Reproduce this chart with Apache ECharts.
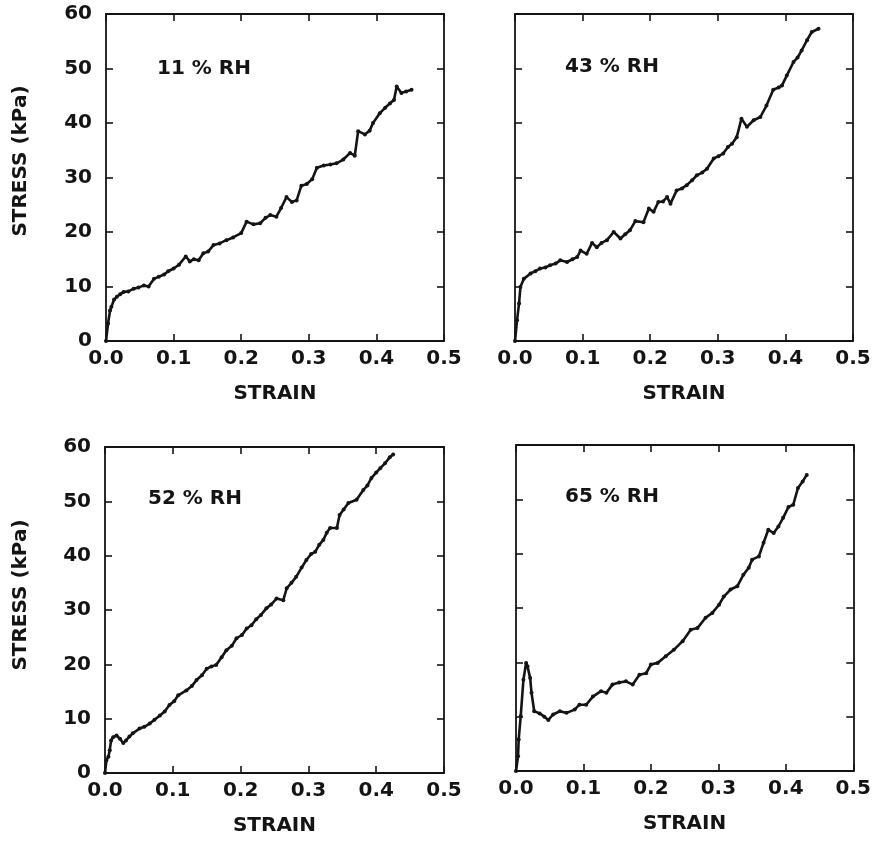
<!DOCTYPE html>
<html>
<head>
<meta charset="utf-8">
<title>Stress-strain at four RH levels</title>
<script src="https://cdn.jsdelivr.net/npm/echarts@6/dist/echarts.min.js"></script>
<style>
  html, body { margin: 0; padding: 0; background: #fff; }
  #chart { width: 874px; height: 842px; }
</style>
</head>
<body>
<div id="chart"></div>
<script>
// panel labels
var panelNames = ['11 % RH', '43 % RH', '52 % RH', '65 % RH'];
var xTicks = [0, 0.1, 0.2, 0.3, 0.4, 0.5];
var yTicks = [0, 10, 20, 30, 40, 50, 60];

// 11 % RH
var strain11 = [0, 0.003, 0.006, 0.008, 0.012, 0.016, 0.021, 0.026, 0.033, 0.041, 0.048, 0.056, 0.063, 0.071, 0.078, 0.086, 0.092, 0.1, 0.108, 0.118, 0.124, 0.13, 0.137, 0.144, 0.151, 0.159, 0.168, 0.178, 0.188, 0.2, 0.208, 0.218, 0.228, 0.236, 0.243, 0.252, 0.259, 0.267, 0.275, 0.282, 0.289, 0.297, 0.305, 0.312, 0.322, 0.332, 0.341, 0.351, 0.361, 0.368, 0.373, 0.383, 0.39, 0.395, 0.405, 0.413, 0.42, 0.426, 0.43, 0.437, 0.444, 0.452];
var stress11 = [0, 3.2, 5.6, 6.3, 7.6, 8.1, 8.6, 9.0, 9.1, 9.6, 9.8, 10.2, 10.0, 11.4, 11.8, 12.2, 12.8, 13.3, 14.0, 15.5, 14.6, 15.0, 14.8, 16.1, 16.4, 17.6, 17.9, 18.5, 19.0, 19.8, 21.9, 21.4, 21.6, 22.6, 23.1, 22.8, 24.4, 26.4, 25.5, 25.8, 28.5, 28.8, 29.7, 31.8, 32.2, 32.4, 32.6, 33.3, 34.5, 34.0, 38.5, 37.9, 38.6, 40.0, 41.8, 42.8, 43.6, 44.2, 46.7, 45.5, 45.8, 46.1];

// 43 % RH
var strain43 = [0, 0.003, 0.006, 0.008, 0.013, 0.023, 0.03, 0.037, 0.045, 0.052, 0.06, 0.067, 0.077, 0.085, 0.092, 0.097, 0.106, 0.114, 0.121, 0.128, 0.136, 0.146, 0.156, 0.163, 0.17, 0.178, 0.19, 0.198, 0.205, 0.212, 0.219, 0.225, 0.23, 0.239, 0.247, 0.254, 0.262, 0.269, 0.277, 0.284, 0.294, 0.301, 0.308, 0.315, 0.321, 0.328, 0.335, 0.343, 0.353, 0.363, 0.372, 0.382, 0.39, 0.395, 0.402, 0.412, 0.418, 0.424, 0.432, 0.439, 0.449];
var stress43 = [0, 3.8, 6.9, 9.9, 11.4, 12.4, 12.8, 13.3, 13.5, 13.9, 14.2, 14.8, 14.5, 15.0, 15.4, 16.6, 16.0, 18.0, 17.2, 18.0, 18.5, 20.0, 18.8, 19.6, 20.3, 22.0, 21.8, 24.3, 23.7, 25.5, 25.6, 26.4, 25.2, 27.6, 28.0, 28.6, 29.5, 30.4, 30.9, 31.6, 33.5, 33.9, 34.4, 35.6, 36.2, 37.4, 40.8, 39.3, 40.5, 41.1, 43.2, 46.1, 46.5, 46.9, 48.7, 51.2, 52.0, 53.3, 55.2, 56.7, 57.3];

// 52 % RH
var strain52 = [0, 0.002, 0.005, 0.007, 0.009, 0.012, 0.017, 0.022, 0.027, 0.031, 0.036, 0.041, 0.051, 0.058, 0.066, 0.073, 0.081, 0.088, 0.095, 0.102, 0.108, 0.12, 0.128, 0.135, 0.143, 0.15, 0.157, 0.164, 0.172, 0.179, 0.187, 0.194, 0.202, 0.209, 0.216, 0.223, 0.23, 0.238, 0.245, 0.253, 0.263, 0.268, 0.275, 0.282, 0.29, 0.297, 0.304, 0.31, 0.316, 0.322, 0.327, 0.332, 0.342, 0.346, 0.352, 0.359, 0.371, 0.381, 0.387, 0.393, 0.4, 0.406, 0.413, 0.42, 0.425];
var stress52 = [0, 2.3, 3.0, 4.2, 6.0, 6.6, 6.9, 6.3, 5.5, 6.0, 6.7, 7.3, 8.2, 8.5, 9.1, 9.8, 10.6, 11.3, 12.5, 13.2, 14.3, 15.2, 16.0, 17.1, 18.0, 19.2, 19.6, 19.9, 21.3, 22.6, 23.4, 24.8, 25.4, 26.6, 27.2, 28.3, 29.1, 30.3, 31.0, 32.1, 31.8, 34.0, 35.0, 36.1, 37.8, 39.2, 40.3, 40.7, 42.0, 42.9, 44.2, 45.1, 45.1, 47.5, 48.5, 49.7, 50.3, 52.1, 52.9, 54.3, 55.3, 56.1, 57.0, 58.1, 58.6];

// 65 % RH
var strain65 = [0, 0.003, 0.004, 0.007, 0.011, 0.015, 0.017, 0.021, 0.023, 0.027, 0.035, 0.042, 0.048, 0.055, 0.065, 0.075, 0.087, 0.094, 0.104, 0.114, 0.126, 0.134, 0.143, 0.153, 0.163, 0.173, 0.183, 0.193, 0.2, 0.21, 0.222, 0.234, 0.247, 0.259, 0.269, 0.281, 0.291, 0.301, 0.308, 0.318, 0.328, 0.337, 0.345, 0.35, 0.36, 0.367, 0.374, 0.382, 0.389, 0.396, 0.404, 0.411, 0.418, 0.425, 0.431];
var stress65 = [0, 2.7, 5.8, 10.1, 16.8, 19.9, 19.3, 17.1, 14.4, 11.0, 10.6, 10.0, 9.4, 10.4, 11.0, 10.7, 11.3, 12.2, 12.2, 13.7, 14.7, 14.4, 15.9, 16.3, 16.5, 15.9, 17.7, 18.0, 19.6, 19.9, 21.1, 22.3, 23.9, 26.0, 26.3, 28.2, 29.1, 30.6, 32.1, 33.4, 34.0, 36.1, 37.4, 38.9, 39.5, 42.0, 44.4, 43.8, 45.0, 46.6, 48.6, 49.0, 52.1, 53.3, 54.5];

var strains = [strain11, strain43, strain52, strain65];
var stresses = [stress11, stress43, stress52, stress65];

// plot boxes, in px: left, top, width, height
var boxes = [
  [106, 14, 338, 327],
  [515, 14, 338, 327],
  [105, 447, 339, 326],
  [516, 445, 339, 326]
];
var labelPos = [[157, 70], [565, 68], [148, 500], [565, 498]];

var ink = '#141414';
var fontFam = '"DejaVu Sans", sans-serif';

function zip(xs, ys) {
  var out = [];
  for (var i = 0; i < xs.length; i++) {
    out.push([xs[i], ys[i]]);
  }
  return out;
}

var grid = [], xAxis = [], yAxis = [], series = [], graphic = [];

boxes.forEach(function (b, i) {
  grid.push({ left: b[0], top: b[1], width: b[2], height: b[3] });

  var lineStyle = { color: ink, width: 1.8 };
  var tick = { show: true, inside: true, length: 7, lineStyle: { color: ink, width: 1.6 } };

  // bottom (labels) + top (ticks only)
  ['bottom', 'top'].forEach(function (pos) {
    xAxis.push({
      type: 'value',
      gridIndex: i,
      position: pos,
      min: xTicks[0],
      max: xTicks[xTicks.length - 1],
      interval: 0.1,
      axisLine: { show: true, onZero: false, lineStyle: lineStyle },
      axisTick: tick,
      splitLine: { show: false },
      axisLabel: {
        show: pos === 'bottom',
        margin: 8,
        color: ink,
        fontFamily: fontFam,
        fontWeight: 'bold',
        fontSize: 20,
        formatter: function (v) { return v.toFixed(1); }
      },
      name: pos === 'bottom' ? 'STRAIN' : '',
      nameLocation: 'middle',
      nameGap: 43,
      nameTextStyle: { color: ink, fontFamily: fontFam, fontWeight: 'bold', fontSize: 20 }
    });
  });

  // left (labels on left panels) + right (ticks only)
  ['left', 'right'].forEach(function (pos) {
    yAxis.push({
      type: 'value',
      gridIndex: i,
      position: pos,
      min: yTicks[0],
      max: yTicks[yTicks.length - 1],
      interval: 10,
      axisLine: { show: true, onZero: false, lineStyle: lineStyle },
      axisTick: tick,
      splitLine: { show: false },
      axisLabel: {
        show: pos === 'left' && i % 2 === 0,
        margin: 14,
        color: ink,
        fontFamily: fontFam,
        fontWeight: 'bold',
        fontSize: 20
      }
    });
  });

  series.push({
    type: 'line',
    name: panelNames[i],
    xAxisIndex: i * 2,
    yAxisIndex: i * 2,
    data: zip(strains[i], stresses[i]),
    symbol: 'circle',
    symbolSize: 4,
    showSymbol: true,
    lineStyle: { color: ink, width: 2.6 },
    itemStyle: { color: ink },
    animation: false
  });

  graphic.push({
    type: 'text',
    left: labelPos[i][0],
    top: labelPos[i][1] - 11,
    style: {
      text: panelNames[i],
      fill: ink,
      font: 'bold 20px ' + fontFam
    }
  });
});

// y axis titles sit a little above the middle of the box
[[21, 161], [21, 595]].forEach(function (p) {
  graphic.push({
    type: 'text',
    x: p[0],
    y: p[1],
    rotation: Math.PI / 2,
    style: {
      text: 'STRESS (kPa)',
      fill: ink,
      font: 'bold 20px ' + fontFam,
      align: 'center',
      verticalAlign: 'middle'
    }
  });
});

var myChart = echarts.init(document.getElementById('chart'));
var option = {
  animation: false,
  backgroundColor: '#fff',
  grid: grid,
  xAxis: xAxis,
  yAxis: yAxis,
  series: series,
  graphic: graphic
};
myChart.setOption(option);
</script>
</body>
</html>
